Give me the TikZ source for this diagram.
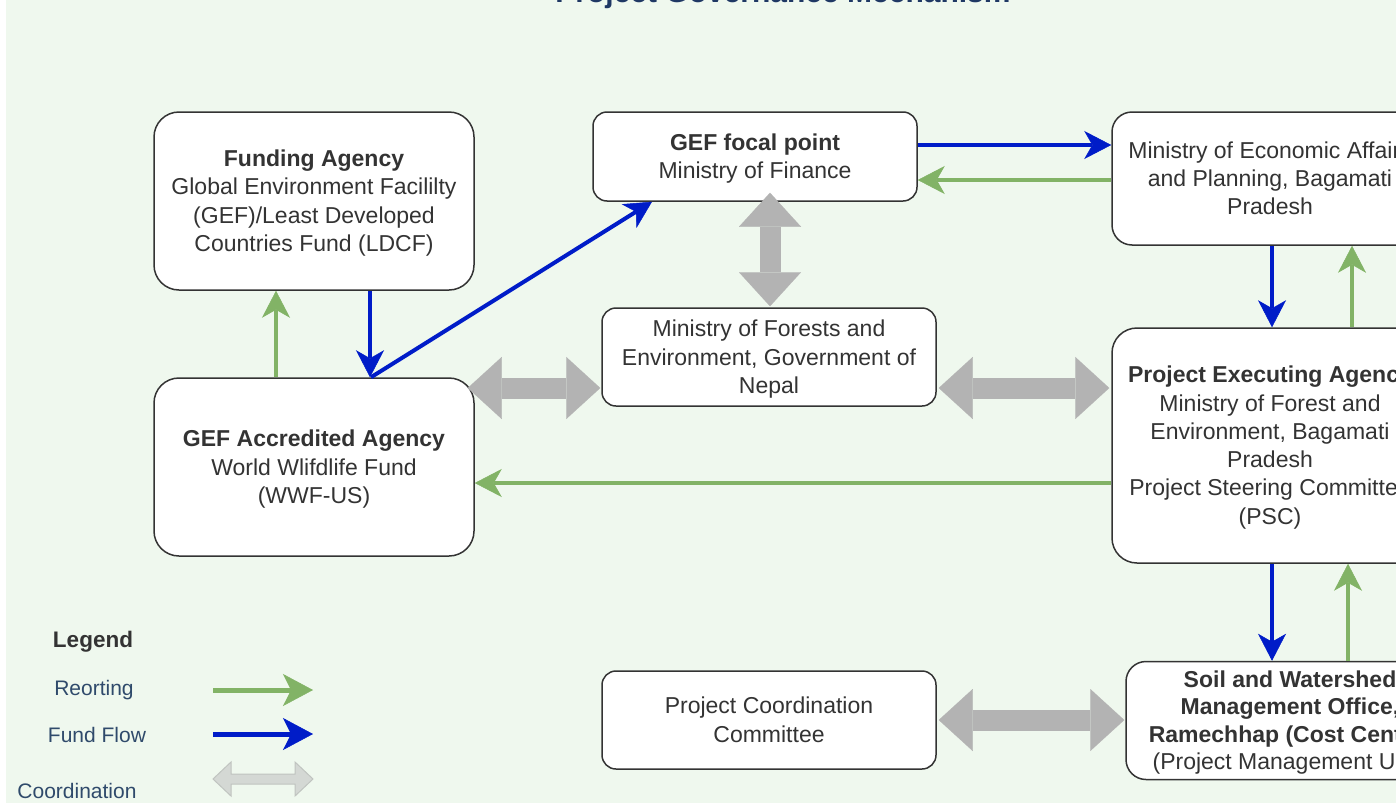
\documentclass[tikz,border=0pt]{standalone}
\usepackage{fontspec}
\setmainfont{Liberation Sans}
\usetikzlibrary{arrows.meta}
\definecolor{bg}{RGB}{239,248,238}
\definecolor{fundblue}{RGB}{0,28,200}
\definecolor{repgreen}{RGB}{130,179,102}
\definecolor{coordgray}{RGB}{179,179,179}
\definecolor{txt}{RGB}{51,51,51}
\definecolor{legtxt}{RGB}{47,74,107}
\definecolor{titleblue}{RGB}{31,56,100}
\definecolor{leggray}{RGB}{212,216,212}
\definecolor{leggrayline}{RGB}{192,196,192}
\newcommand{\toppad}{\rule{0pt}{21pt}}
\begin{document}
\begin{tikzpicture}[x=1pt,y=-1pt,
  boxbase/.style={draw=txt, line width=1.5pt, fill=white, align=center, text=txt,
    font=\fontsize{23}{28.3}\selectfont, inner sep=0pt,
    execute at end node={\rule[-5pt]{0pt}{5pt}}},
  fundflow/.style={draw=fundblue, line width=4pt,
    -{Stealth[length=27pt,width=28pt,inset=8pt,line width=0.5pt]}},
  reporting/.style={draw=repgreen, line width=4pt,
    -{Stealth[length=27pt,width=28pt,inset=8pt,line width=0.5pt]}},
  coordarrow/.style={draw=coordgray, line width=21pt,
    {Triangle[length=34pt,width=62pt,line width=0.1pt]}-{Triangle[length=34pt,width=62pt,line width=0.1pt]}},
  legtext/.style={text=legtxt, font=\fontsize{21}{25}\selectfont, inner sep=0pt},
  legfund/.style={draw=fundblue, line width=5pt,
    -{Stealth[length=30pt,width=32pt,inset=8pt,line width=0.5pt]}},
  legrep/.style={draw=repgreen, line width=5pt,
    -{Stealth[length=30pt,width=32pt,inset=8pt,line width=0.5pt]}}
]
\useasboundingbox (0,0) rectangle (1396,806);
\clip (0,0) rectangle (1396,806);
\fill[white] (0,0) rectangle (1396,806);
\fill[bg] (6,0) rectangle (1396,803);

% title
\node[anchor=base, text=titleblue, font=\fontsize{30}{36}\selectfont\bfseries, inner sep=0pt]
  (title) at (783,2) {Project Governance Mechanism};

% boxes
\node[boxbase, rounded corners=25pt, minimum width=320pt, minimum height=178pt] (fund) at (314,201)
  {\toppad\textbf{Funding Agency}\\Global Environment Facililty\\(GEF)/Least Developed\\Countries Fund (LDCF)};
\node[boxbase, rounded corners=14pt, minimum width=324pt, minimum height=89pt] (focal) at (755,156.5)
  {\toppad\textbf{GEF focal point}\\Ministry of Finance};
\node[boxbase, rounded corners=20pt, minimum width=316pt, minimum height=133pt] (moeap) at (1270,178.5)
  {\toppad Ministry of Economic Affairs\\and Planning, Bagamati\\Pradesh};
\node[boxbase, rounded corners=14pt, minimum width=334pt, minimum height=98pt] (mofe) at (769,357)
  {\toppad Ministry of Forests and\\Environment, Government of\\Nepal};
\node[boxbase, rounded corners=25pt, minimum width=320pt, minimum height=178pt] (wwf) at (314,467)
  {\toppad\textbf{GEF Accredited Agency}\\World Wlifdlife Fund\\(WWF-US)};
\node[boxbase, rounded corners=25pt, minimum width=316pt, minimum height=235pt] (pea) at (1270,445.5)
  {\toppad\textbf{Project Executing Agency}\\Ministry of Forest and\\Environment, Bagamati\\Pradesh\\Project Steering Committee\\(PSC)};
\node[boxbase, rounded corners=14pt, minimum width=334pt, minimum height=98pt] (pcc) at (769,720)
  {\toppad Project Coordination\\Committee};
\node[boxbase, rounded corners=20pt, minimum width=328pt, minimum height=118pt,
  font=\fontsize{23}{27.5}\selectfont] (soil) at (1290,720.5)
  {\toppad\textbf{Soil and Watershed}\\\textbf{Management Office,}\\\textbf{Ramechhap (Cost Center)}\\(Project Management Unit)};

% helper coordinates for horizontal levels
\coordinate (y145) at (0,145);
\coordinate (y180) at (0,180);
\coordinate (y483) at (0,483);
\coordinate (y388) at (0,388);
\coordinate (y720) at (0,720);

% fund flow / reporting
\draw[fundflow] ([xshift=56pt]fund.south) -- ([xshift=56pt]wwf.north);
\draw[reporting] ([xshift=-38pt]wwf.north) -- ([xshift=-38pt]fund.south);
\draw[fundflow] ([xshift=57pt]wwf.north) -- ([xshift=-103pt]focal.south);
\draw[fundflow] (focal.east |- y145) -- (moeap.west |- y145);
\draw[reporting] (moeap.west |- y180) -- (focal.east |- y180);
\draw[fundflow] ([xshift=2pt]moeap.south) -- ([xshift=2pt]pea.north);
\draw[reporting] ([xshift=82pt]pea.north) -- ([xshift=82pt]moeap.south);
\draw[reporting] (pea.west |- y483) -- (wwf.east |- y483);
\draw[fundflow] ([xshift=2pt]pea.south) -- ([xshift=-18pt]soil.north);
\draw[reporting] ([xshift=58pt]soil.north) -- ([xshift=78pt]pea.south);

% coordination
\draw[coordarrow] ([shift={(-7pt,0)}]wwf.east |- y388) -- ([shift={(-1pt,0)}]mofe.west |- y388);
\draw[coordarrow] ([shift={(2pt,0)}]mofe.east |- y388) -- ([shift={(-2pt,0)}]pea.west |- y388);
\draw[coordarrow] ([shift={(2pt,0)}]pcc.east |- y720) -- ([shift={(-1pt,0)}]soil.west |- y720);
\draw[coordarrow] ([shift={(15pt,9pt)}]focal.south) -- ([shift={(1pt,1pt)}]mofe.north);

% legend
\node[text=txt, font=\fontsize{22.5}{27}\selectfont\bfseries, inner sep=0pt] (legend) at (93,642) {Legend};
\node[legtext] (lrep) at (94,690) {Reorting};
\node[legtext] (lfund) at (97,735) {Fund Flow};
\node[legtext] (lcoord) at (77,791) {Coordination};
\coordinate (lrs) at (213,690);
\coordinate (lre) at (313,690);
\coordinate (lfs) at (213,734);
\coordinate (lfe) at (313,734);
\draw[legrep] (lrs) -- (lre);
\draw[legfund] (lfs) -- (lfe);
\filldraw[fill=leggray, draw=leggrayline, line width=1pt]
  (213,779) -- (231,762) -- (231,774) -- (295,774) -- (295,762) -- (313,779)
  -- (295,796) -- (295,784) -- (231,784) -- (231,796) -- cycle;
\end{tikzpicture}
\end{document}
